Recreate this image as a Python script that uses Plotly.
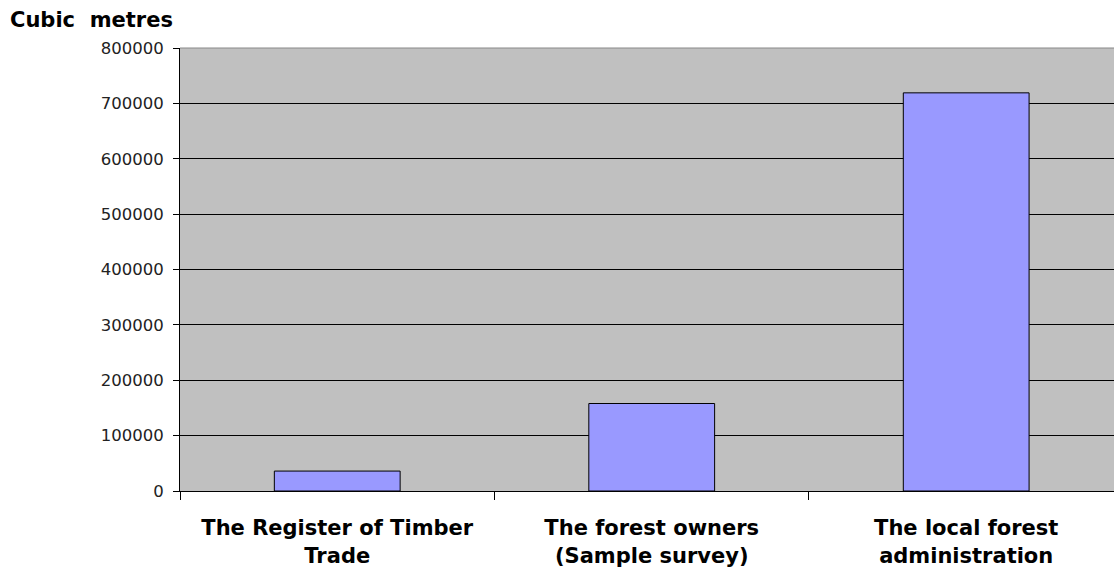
import plotly.graph_objects as go

categories = ["The Register of Timber<br>Trade", "The forest owners<br>(Sample survey)", "The local forest<br>administration"]
volumes = [36000, 158000, 719000]
y_ticks = [0, 100000, 200000, 300000, 400000, 500000, 600000, 700000, 800000]
y_title = "Cubic\u00a0 metres"

fig = go.Figure()
fig.add_trace(go.Bar(
    x=categories, y=volumes,
    marker=dict(color="#9999FF", line=dict(color="#000000", width=1)),
    hoverinfo="skip",
))

fig.update_layout(
    width=1114, height=573,
    margin=dict(l=180, r=0, t=48, b=82),
    paper_bgcolor="#FFFFFF",
    plot_bgcolor="#C0C0C0",
    bargap=0.6,
    showlegend=False,
    font=dict(family="DejaVu Sans", color="#000000"),
    xaxis=dict(
        type="category",
        range=[-0.5, 2.47],
        showline=True, linecolor="#000000", linewidth=1,
        ticks="outside", tickson="boundaries", ticklen=8, tickcolor="#000000",
        showgrid=False,
        tickfont=dict(family="DejaVu Sans", size=21, color="#000000", weight="bold"),
        ticklabelstandoff=18,
    ),
    yaxis=dict(
        range=[0, 800000],
        tickvals=y_ticks,
        ticktext=[str(v) for v in y_ticks],
        showline=True, linecolor="#000000", linewidth=1,
        ticks="outside", ticklen=6, tickcolor="#000000",
        showgrid=True, gridcolor="#000000", gridwidth=1,
        zeroline=False,
        tickfont=dict(family="DejaVu Sans", size=16.5, color="#222222"),
        ticklabelstandoff=6,
    ),
    shapes=[dict(type="line", xref="paper", yref="paper", x0=0, x1=1, y0=1, y1=1,
                 line=dict(color="#888888", width=1), layer="above")],
    annotations=[dict(
        text=y_title, xref="paper", yref="paper", x=-172/934, y=1 + 14/443,
        xanchor="left", yanchor="bottom", showarrow=False,
        font=dict(family="DejaVu Sans", size=21, color="#000000", weight="bold"),
    )],
)

fig.write_html("out.html")
